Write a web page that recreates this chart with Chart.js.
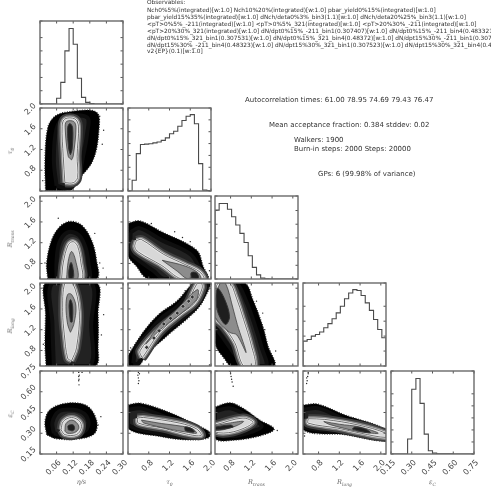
<!DOCTYPE html>
<html><head><meta charset="utf-8">
<script src="https://cdn.jsdelivr.net/npm/chart.js@4"></script>
<style>
html,body{margin:0;padding:0;background:#fff;width:491px;height:487px;overflow:hidden}
canvas{position:absolute;filter:blur(0.35px)}
.t{position:absolute;white-space:pre;font-family:"DejaVu Sans";color:#333;line-height:1;transform:translateY(-50%);filter:blur(0.25px)}
.o{font-size:5.83px}.s{font-size:6.97px}
.a{position:absolute;font-family:"DejaVu Serif","Liberation Serif",serif;font-style:italic;font-size:6.5px;color:#666;white-space:pre;transform:translate(-50%,-50%);filter:blur(0.25px)}
.a.v{transform:translate(-50%,-50%) rotate(-90deg)}
.a sub{font-size:4.5px;vertical-align:-2px;line-height:0}
</style></head><body>
<script>
// ---- text ----
const observableLines = [
 ["Observables:",3],
 ["Nch0%5%(integrated)[w:1.0] Nch10%20%(integrated)[w:1.0] pbar_yield0%15%(integrated)[w:1.0]",10.5],
 ["pbar_yield15%35%(integrated)[w:1.0] dNch/deta0%3%_bin3(1.1)[w:1.0] dNch/deta20%25%_bin3(1.1)[w:1.0]",17.5],
 ["<pT>0%5%_-211(integrated)[w:1.0] <pT>0%5%_321(integrated)[w:1.0] <pT>20%30%_-211(integrated)[w:1.0]",24.5],
 ["<pT>20%30%_321(integrated)[w:1.0] dN/dpt0%15%_-211_bin1(0.307407)[w:1.0] dN/dpt0%15%_-211_bin4(0.483321)[w:1.0]",31.5],
 ["dN/dpt0%15%_321_bin1(0.307531)[w:1.0] dN/dpt0%15%_321_bin4(0.48372)[w:1.0] dN/dpt15%30%_-211_bin1(0.307407)[w:1.0]",38.5],
 ["dN/dpt15%30%_-211_bin4(0.48323)[w:1.0] dN/dpt15%30%_321_bin1(0.307523)[w:1.0] dN/dpt15%30%_321_bin4(0.48372)[w:1.0]",45.5],
 ["v2{EP}(0.1)[w:1.0]",52]
];
const statLines = [
 ["Autocorrelation times: 61.00 78.95 74.69 79.43 76.47",245,100],
 ["Mean acceptance fraction: 0.384 stddev: 0.02",269,124.5],
 ["Walkers: 1900",294,140],
 ["Burn-in steps: 2000 Steps: 20000",294,149],
 ["GPs: 6 (99.98% of variance)",318,173.5]
];
const axisTitles = {
 eta:"η/s", tau:"τ<sub>0</sub>", rtrans:"R<sub>trans</sub>", rlong:"R<sub>long</sub>", epsc:"ε<sub>C</sub>"
};

// ---- axes ----
const paramOrder = ["eta","tau","rtrans","rlong","epsc"];
const axisMin = {eta:0,tau:0.4,rtrans:0.5,rlong:0.5,epsc:0.15};
const axisMax = {eta:0.30,tau:2.0,rtrans:2.1,rlong:2.1,epsc:0.75};
const etaTicks = ["","0.06","0.12","0.18","0.24","0.30"];
const tauTicks = ["","0.8","1.2","1.6","2.0"];
const rtransTicks = ["0.8","1.2","1.6","2.0"];
const rlongTicks = ["0.8","1.2","1.6","2.0"];
const epscTicks = ["0.15","0.30","0.45","0.60","0.75"];
const etaTickValues = [0,0.06,0.12,0.18,0.24,0.30];
const tauTickValues = [0.4,0.8,1.2,1.6,2.0];
const rtransTickValues = [0.8,1.2,1.6,2.0];
const rlongTickValues = [0.8,1.2,1.6,2.0];
const epscTickValues = [0.15,0.30,0.45,0.60,0.75];
const axisTickValues = {eta:etaTickValues,tau:tauTickValues,rtrans:rtransTickValues,rlong:rlongTickValues,epsc:epscTickValues};
const axisTickLabels = {eta:etaTicks,tau:tauTicks,rtrans:rtransTicks,rlong:rlongTicks,epsc:epscTicks};
const yLabelShift = {eta:-5.5,tau:-3.3,rtrans:-3.3,rlong:-3.3,epsc:-5.5};
const colLeft = [40,128,215,303,391];
const rowTop = [21,108,196,283,371];
const panelSize = 83;

// ---- histograms (20 bins, percent of panel height) ----
const histEta = [0,0,0,0,7,26,64,91,72,31,8,2,0.5,0,0,0,0,0,0,0];
const histTau = [0,13,45,56,56.5,57,58,59,61,64,69,72,78,85,90,92,81,33,1,0.5];
const histRtrans = [83,91,91,84,75,65,55,44,28,14,5,1,0.3,0,0,0,0,0,0,0];
const histRlong = [30,32,36,38,41,46,51,57,64,72,81,88,92,91,85,76,67,56,44,34];
const histEpsc = [0,0,0,0,18,78,91,61,24,4,1,0.3,0.2,0.1,0.1,0,0,0,0,0];
const histStep = [16,14.3,16.5,18,14.5];

// ---- density regions: outer scatter, halo, outer contour, inner contour, core ----
const tauEtaOuter=[[.02,.4],[.018,1.0],[.028,1.62],[.054,1.84],[.096,1.92],[.204,1.92],[.212,1.52],[.192,1.0],[.144,.66],[.09,.4]];
const tauEtaMid=[[.06,.5],[.05,1.0],[.06,1.6],[.09,1.82],[.17,1.82],[.17,1.5],[.155,1.05],[.14,.7],[.11,.45]];
const tauEtaLight=[[.09,.56],[.084,1.07],[.08,1.65],[.09,1.79],[.126,1.79],[.139,1.65],[.134,1.07],[.136,.66],[.12,.56]];
const tauEtaInner=[[.114,1.0],[.102,1.07],[.091,1.62],[.096,1.74],[.122,1.74],[.13,1.62],[.12,1.07]];
const tauEtaCore=[[.11,1.1],[.104,1.2],[.1,1.62],[.108,1.7],[.118,1.62],[.116,1.2]];
const tauEtaStray=[[.134,1.98],[.23,1.57],[.216,1.84],[.225,1.3],[.01,.6]];

const rtEtaOuter=[[.028,.5],[.024,.81],[.042,1.25],[.072,1.51],[.108,1.61],[.15,1.54],[.186,1.25],[.204,.87],[.204,.5]];
const rtEtaMid=[[.06,.5],[.06,.85],[.07,1.2],[.1,1.4],[.14,1.35],[.165,1.1],[.175,.8],[.175,.5]];
const rtEtaLight=[[.078,.5],[.084,.81],[.102,1.16],[.12,1.22],[.136,1.13],[.148,.81],[.15,.5]];
const rtEtaInner=[[.096,.5],[.102,.84],[.114,1.03],[.128,.87],[.136,.5]];
const rtEtaCore=[[.105,.5],[.104,.65],[.112,.82],[.12,.68],[.12,.5]];
const rtEtaStray=[[.066,1.67],[.198,1.38],[.228,.71],[.018,.81],[.216,.81]];

const rlEtaOuter=[[.022,.5],[.018,.9],[.02,1.5],[.02,2.1],[.205,2.1],[.21,1.5],[.21,.9],[.2,.5]];
const rlEtaMid=[[.05,.5],[.045,1.3],[.045,2.1],[.185,2.1],[.185,1.3],[.18,.5]];
const rlEtaLight=[[.114,.6],[.1,.65],[.088,1.1],[.082,1.55],[.09,2.1],[.118,2.1],[.142,1.55],[.132,.85]];
const rlEtaInner=[[.11,1.15],[.1,1.3],[.094,1.65],[.1,1.88],[.114,1.88],[.13,1.65],[.122,1.3]];
const rlEtaCore=[[.11,1.35],[.105,1.65],[.11,1.78],[.118,1.65],[.116,1.35]];
const rlEtaStray=[[.23,1.49],[.222,1.1],[.012,.92],[.015,1.8],[.215,1.9]];

const epEtaOuter=[[.024,.29],[.018,.385],[.036,.47],[.096,.517],[.168,.5],[.204,.397],[.198,.30],[.144,.26],[.06,.26]];
const epEtaMid=[[.05,.3],[.045,.38],[.07,.46],[.12,.47],[.16,.44],[.175,.38],[.165,.32],[.13,.285],[.08,.285]];
const epEtaLight=[[.076,.325],[.084,.385],[.114,.414],[.144,.385],[.149,.337],[.132,.29],[.09,.29]];
const epEtaInner=[[.09,.315],[.094,.37],[.115,.395],[.135,.37],[.14,.335],[.125,.305],[.1,.3]];
const epEtaCore=[[.102,.325],[.102,.355],[.12,.36],[.125,.335],[.118,.318]];
const epEtaStray=[[.14,.74],[.142,.72],[.14,.71],[.141,.69],[.14,.68],[.141,.65],[.152,.74],[.22,.42],[.21,.36]];

const rtTauOuter=[[.4,1.57],[.625,1.62],[1.05,1.41],[1.72,1.06],[1.85,.74],[1.93,.5],[.8,.5],[.55,.76],[.4,.96]];
const rtTauMid=[[.45,1.4],[.62,1.48],[1.05,1.25],[1.6,.98],[1.78,.7],[1.85,.5],[1.1,.5],[.9,.65],[.5,.95],[.45,1.1]];
const rtTauLight=[[.56,1.24],[.66,1.26],[1.08,.98],[1.5,.78],[1.78,.64],[1.86,.5],[1.43,.5],[1.05,.76],[.6,1.02],[.53,1.12]];
const rtTauInner=[[1.06,.86],[1.5,.75],[1.75,.62],[1.8,.5],[1.55,.5],[1.35,.65]];
const rtTauCore=[[1.62,.52],[1.62,.62],[1.72,.62],[1.76,.52]];
const rtTauStray=[[1.97,.66],[1.6,1.22],[1.3,1.41],[.85,1.57],[1.45,1.3]];

const rlTauOuter=[[.4,.69],[.51,.88],[.76,1.24],[1.02,1.52],[1.34,1.75],[1.56,2.0],[1.66,2.1],[2,2.1],[1.94,1.94],[1.78,1.65],[1.53,1.4],[1.15,1.08],[.76,.72],[.6,.5],[.4,.5]];
const rlTauMid=[[.5,.55],[.56,.85],[.8,1.15],[1.05,1.43],[1.35,1.65],[1.6,1.95],[1.72,2.1],[1.93,2.1],[1.85,1.85],[1.7,1.62],[1.5,1.45],[1.15,1.18],[.75,.82],[.6,.55]];
const rlTauLight=[[.67,.66],[.63,.79],[.95,1.17],[1.27,1.43],[1.53,1.68],[1.72,2.07],[1.81,2.1],[1.83,2.0],[1.69,1.72],[1.4,1.49],[1.02,1.16],[.7,.69]];
const rlTauInner=[[.74,.92],[1.02,1.2],[1.43,1.52],[1.72,1.78],[1.75,1.97],[1.62,1.88],[1.3,1.55],[1.0,1.28]];
const rlTauCore=[];
const rlTauStray=[[1.97,.52],[.45,.85],[1.5,1.95]];
const rlTauSpots=[[.76,.86],[.9,1.04],[1.0,1.18],[1.09,1.31],[1.22,1.42],[1.35,1.52],[1.46,1.65],[1.57,1.75],[1.64,1.83]];

const rlRtOuter=[[.5,2.1],[1.07,2.1],[1.23,1.78],[1.42,1.27],[1.52,.89],[1.64,.5],[.82,.5],[.69,.63],[.5,.95]];
const rlRtMid=[[.5,2.1],[.9,2.1],[1.1,1.75],[1.28,1.25],[1.4,.85],[1.48,.5],[1.05,.5],[.9,.7],[.65,1.05],[.5,1.3]];
const rlRtLight=[[.5,1.84],[.56,2.1],[.78,2.1],[.9,1.85],[1.05,1.4],[1.2,.9],[1.27,.5],[1.05,.5],[.88,.95],[.66,1.27],[.5,1.43]];
const rlRtInner=[[.5,1.75],[.6,2.1],[.7,2.1],[.85,1.6],[.93,1.3],[1.1,.76],[.92,1.1],[.78,1.15],[.5,1.45]];
const rlRtCore=[[.52,1.85],[.55,2.0],[.68,1.8],[.78,1.45],[.7,1.3],[.55,1.55]];
const rlRtStray=[[.66,.54],[1.46,1.2],[1.67,.79],[1.42,1.52],[1.3,1.75]];

const epTauOuter=[[.4,.505],[.64,.517],[1.15,.457],[1.72,.36],[2,.3],[1.94,.265],[1.53,.253],[1.02,.277],[.4,.337]];
const epTauMid=[[.4,.47],[.65,.48],[1.1,.42],[1.6,.35],[1.85,.285],[1.5,.27],[1.0,.3],[.4,.36]];
const epTauLight=[[.58,.41],[.7,.414],[1.4,.373],[1.72,.332],[1.81,.284],[1.53,.294],[1.08,.337],[.6,.373]];
const epTauInner=[[.66,.395],[1.05,.37],[1.45,.35],[1.65,.33],[1.72,.3],[1.5,.31],[1.2,.33],[.7,.375]];
const epTauCore=[[1.5,.32],[1.5,.345],[1.62,.335],[1.68,.31],[1.58,.31]];
const epTauStray=[[.6,.74],[.59,.72],[.6,.7],[.61,.68],[.6,.66],[.62,.73],[1.97,.29]];

const epRtOuter=[[.5,.49],[.79,.52],[1.04,.48],[1.36,.396],[1.64,.33],[1.36,.28],[.85,.25],[.5,.263]];
const epRtMid=[[.5,.46],[.8,.48],[1.2,.41],[1.4,.35],[1.2,.31],[.85,.28],[.5,.3]];
const epRtLight=[[.5,.36],[1.04,.41],[1.23,.376],[.85,.31],[.5,.31]];
const epRtInner=[[.5,.355],[.8,.375],[1.05,.385],[.85,.345],[.5,.32]];
const epRtCore=[[.5,.345],[.8,.36],[.85,.345],[.5,.325]];
const epRtStray=[[.78,.75],[.8,.73],[.81,.71],[.82,.69],[.83,.67],[.85,.64],[1.7,.32]];

const epRlOuter=[[.5,.505],[.79,.51],[1.3,.433],[2.1,.325],[2.1,.246],[1.3,.29],[.5,.325]];
const epRlMid=[[.5,.47],[.8,.48],[1.3,.4],[2.1,.3],[2.1,.26],[1.3,.31],[.5,.35]];
const epRlLight=[[.6,.405],[.92,.4],[1.56,.36],[2.1,.3],[2.1,.27],[1.62,.3],[1.17,.337],[.6,.373]];
const epRlInner=[[.9,.385],[1.2,.365],[1.6,.345],[1.95,.3],[1.6,.31],[1.3,.335],[1.0,.365]];
const epRlCore=[[1.45,.33],[1.5,.345],[1.7,.33],[1.8,.305],[1.65,.31]];
const epRlStray=[[.6,.73],[.59,.71],[.57,.7],[.58,.68],[.57,.66],[.6,.74],[.53,.28]];

const histPanels=[["eta",histEta],["tau",histTau],["rtrans",histRtrans],["rlong",histRlong],["epsc",histEpsc]];
const densityPanels=[
 {x:"eta",y:"tau",o:tauEtaOuter,m:tauEtaMid,l:tauEtaLight,i:tauEtaInner,c:tauEtaCore,s:tauEtaStray},
 {x:"eta",y:"rtrans",o:rtEtaOuter,m:rtEtaMid,l:rtEtaLight,i:rtEtaInner,c:rtEtaCore,s:rtEtaStray},
 {x:"eta",y:"rlong",o:rlEtaOuter,m:rlEtaMid,l:rlEtaLight,i:rlEtaInner,c:rlEtaCore,s:rlEtaStray},
 {x:"eta",y:"epsc",o:epEtaOuter,m:epEtaMid,l:epEtaLight,i:epEtaInner,c:epEtaCore,s:epEtaStray},
 {x:"tau",y:"rtrans",o:rtTauOuter,m:rtTauMid,l:rtTauLight,i:rtTauInner,c:rtTauCore,s:rtTauStray},
 {x:"tau",y:"rlong",o:rlTauOuter,m:rlTauMid,l:rlTauLight,i:rlTauInner,c:rlTauCore,s:rlTauStray,spots:rlTauSpots},
 {x:"tau",y:"epsc",o:epTauOuter,m:epTauMid,l:epTauLight,i:epTauInner,c:epTauCore,s:epTauStray},
 {x:"rtrans",y:"rlong",o:rlRtOuter,m:rlRtMid,l:rlRtLight,i:rlRtInner,c:rlRtCore,s:rlRtStray},
 {x:"rtrans",y:"epsc",o:epRtOuter,m:epRtMid,l:epRtLight,i:epRtInner,c:epRtCore,s:epRtStray},
 {x:"rlong",y:"epsc",o:epRlOuter,m:epRlMid,l:epRlLight,i:epRlInner,c:epRlCore,s:epRlStray}
];

// ---- page text ----
function addText(txt,left,top,cls){const d=document.createElement('div');d.className='t '+cls;d.textContent=txt;d.style.left=left+'px';d.style.top=top+'px';document.body.appendChild(d);}
observableLines.forEach(l=>addText(l[0],147,l[1],'o'));
statLines.forEach(l=>addText(l[0],l[1],l[2],'s'));
function addTitle(html,x,y,v){const d=document.createElement('div');d.className='a'+(v?' v':'');d.innerHTML=html;d.style.left=x+'px';d.style.top=y+'px';document.body.appendChild(d);}
paramOrder.forEach((p,i)=>{
  addTitle(axisTitles[p],colLeft[i]+panelSize/2,482,false);
  if(i>0) addTitle(axisTitles[p],10,rowTop[i]+panelSize/2+1,true);
});

// ---- chart helpers ----
const frame={id:'frame',afterDatasetsDraw(ch){
  const a=ch.chartArea,c=ch.ctx,L=2.5;
  c.save();c.strokeStyle='#555';c.lineWidth=1;c.beginPath();
  const X=ch.scales.x,Y=ch.scales.y;
  X.ticks.forEach(t=>{const p=X.getPixelForValue(t.value);c.moveTo(p,a.top);c.lineTo(p,a.top+L);c.moveTo(p,a.bottom);c.lineTo(p,a.bottom-L);});
  Y.ticks.forEach(t=>{const p=Y.getPixelForValue(t.value);c.moveTo(a.left,p);c.lineTo(a.left+L,p);c.moveTo(a.right,p);c.lineTo(a.right-L,p);});
  c.stroke();
  c.strokeStyle='#6a6a6a';c.lineWidth=1.4;c.strokeRect(a.left,a.top,a.right-a.left,a.bottom-a.top);
  c.restore();
}};
const ML=40,MB=30,MT=12,MR=12;
function axisCfg(p,show,pad,lab){
  const vals=axisTickValues[p],labs=axisTickLabels[p];
  return {type:'linear',min:axisMin[p],max:axisMax[p],
    afterBuildTicks:s=>{s.ticks=vals.map(v=>({value:v}));},
    ticks:{display:show,autoSkip:false,minRotation:45,maxRotation:45,
      color:'#444',font:{family:'DejaVu Sans',size:8},padding:pad,labelOffset:lab,
      callback:(v,i)=>labs[i]}};
}
function makeChart(col,row,datasets,xKey,yKey,yOpts){
  const cv=document.createElement('canvas');
  const w=panelSize+ML+MR,h=panelSize+MT+MB;
  cv.width=w;cv.height=h;cv.style.width=w+'px';cv.style.height=h+'px';
  cv.style.left=(colLeft[col]-ML)+'px';cv.style.top=(rowTop[row]-MT)+'px';
  document.body.appendChild(cv);
  const xs=axisCfg(xKey,row===4,4,3.4);
  xs.afterFit=s=>{s.height=MB;};xs.grid={display:false,drawTicks:false};xs.border={display:false};
  const ys=yOpts||axisCfg(yKey,col===0&&row>0,5,yLabelShift[yKey]);
  ys.afterFit=s=>{s.width=ML;};ys.grid={display:false,drawTicks:false};ys.border={display:false};
  return new Chart(cv,{type:'scatter',data:{datasets},plugins:[frame],options:{
    responsive:false,animation:false,events:[],devicePixelRatio:1,
    layout:{padding:{top:MT,right:MR,left:0,bottom:0}},
    plugins:{legend:{display:false},tooltip:{enabled:false},title:{display:false}},
    elements:{point:{radius:0}},
    scales:{x:xs,y:ys}}});
}
const pts=a=>a.map(p=>({x:p[0],y:p[1]}));
const closed=a=>a.length?pts(a.concat([a[0]])):[];
function poly(a,order,fill,stroke,width,dash,tension){
  return {data:closed(a),showLine:true,order,fill:fill?'shape':false,backgroundColor:fill||'transparent',
    borderColor:stroke,borderWidth:width,borderDash:dash||[],tension:tension===undefined?0.35:tension,pointRadius:0};
}

// ---- histograms on the diagonal ----
histPanels.forEach(([p,vals],i)=>{
  const w=(axisMax[p]-axisMin[p])/vals.length;
  const line=[];
  line.push([axisMin[p],0]);
  vals.forEach((v,k)=>{line.push([axisMin[p]+k*w,v]);line.push([axisMin[p]+(k+1)*w,v]);});
  line.push([axisMax[p],0]);
  const ds=[{data:pts(line),showLine:true,fill:false,borderColor:'#4a4a4a',borderWidth:1.1,tension:0,pointRadius:0}];
  makeChart(i,i,ds,p,null,{type:'linear',min:0,max:100,ticks:{display:false,stepSize:histStep[i]}});
});

// ---- 2D density panels ----
densityPanels.forEach(d=>{
  const col=paramOrder.indexOf(d.x),row=paramOrder.indexOf(d.y);
  const ds=[
    poly(d.o,90,'#000','#222',1.3,[1,1.5]),
    poly(d.m,80,'#222','#0e0e0e',4),
    poly(d.l,72,false,'#3e3e3e',9),
    poly(d.l,70,'#cfcfcf','#858585',5),
    poly(d.l,69,'#d8d8d8','#f0f0f0',2.2),
    poly(d.l,68,false,'#505050',0.8),
    poly(d.i,60,'#8c8c8c','#444',0.8)
  ];
  if(d.c.length) ds.push(poly(d.c,50,'#1e1e1e','#333',1));
  if(d.spots) ds.push({data:pts(d.spots),order:40,pointStyle:'rectRot',pointRadius:2.2,pointBackgroundColor:'#333',pointBorderColor:'#eee',pointBorderWidth:.5,showLine:false});
  ds.push({data:pts(d.s),order:30,pointRadius:.7,pointBackgroundColor:'#222',pointBorderWidth:0,showLine:false});
  makeChart(col,row,ds,d.x,d.y);
});
</script>
</body></html>
